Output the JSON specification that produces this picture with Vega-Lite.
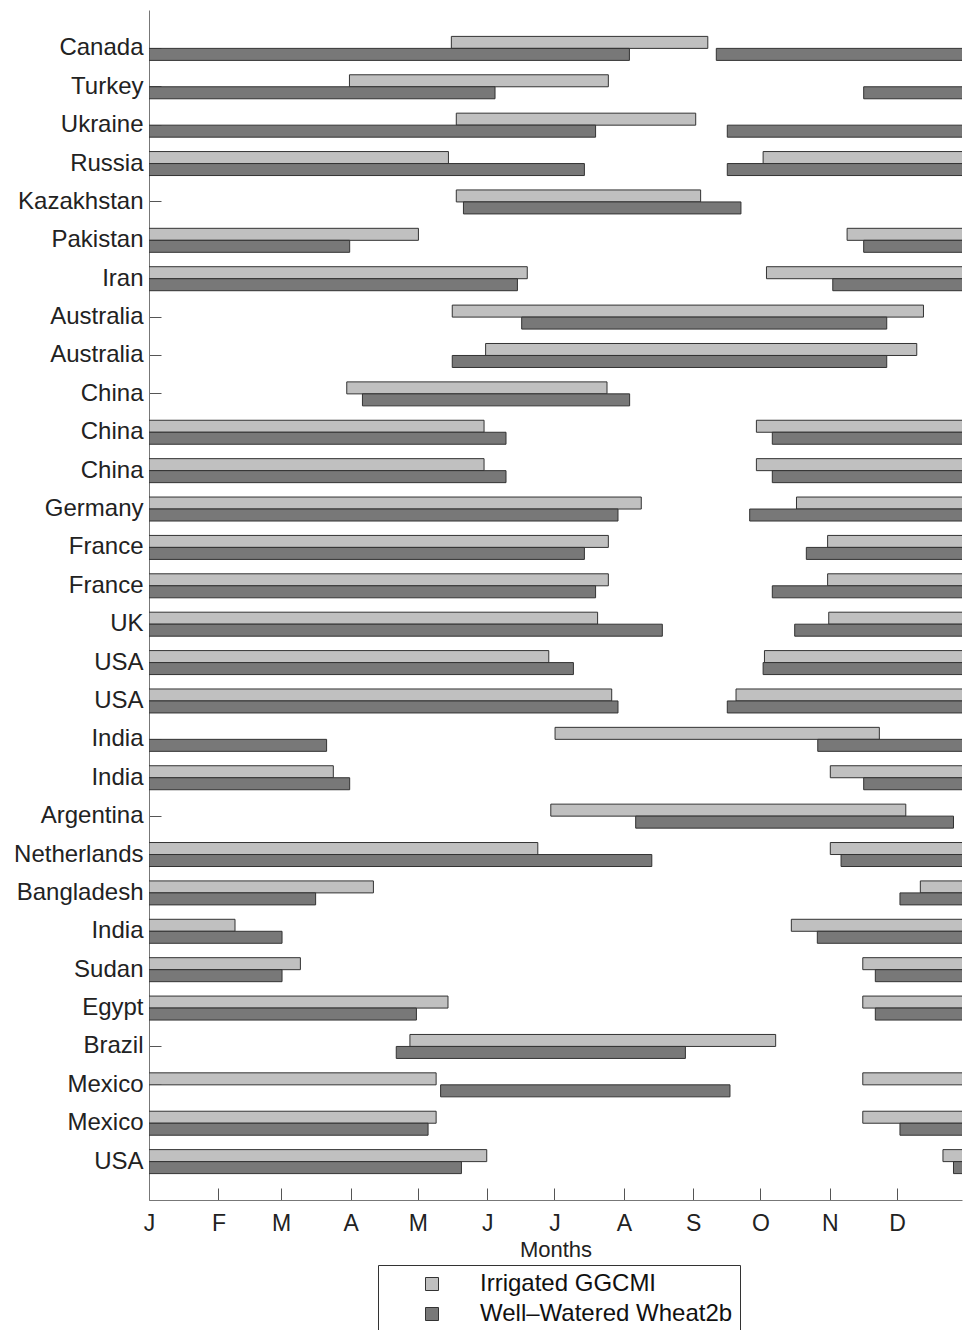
{
  "$schema": "https://vega.github.io/schema/vega-lite/v6.json",
  "width": 813,
  "height": 1190,
  "autosize": {"type": "none"},
  "padding": {"left": 149, "top": 10, "right": 1, "bottom": 130},
  "background": "white",
  "config": {"view": {"stroke": null}, "font": "Liberation Sans"},
  "data": {"values": [
    {"row": 1, "series": "Irrigated GGCMI", "start": 135, "end": 249.5},
    {"row": 1, "series": "Well–Watered Wheat2b", "start": 0, "end": 214.5},
    {"row": 1, "series": "Well–Watered Wheat2b", "start": 253.3, "end": 365},
    {"row": 2, "series": "Irrigated GGCMI", "start": 89.5, "end": 205.1},
    {"row": 2, "series": "Well–Watered Wheat2b", "start": 0, "end": 154.5},
    {"row": 2, "series": "Well–Watered Wheat2b", "start": 319.1, "end": 365},
    {"row": 3, "series": "Irrigated GGCMI", "start": 137.2, "end": 244.1},
    {"row": 3, "series": "Well–Watered Wheat2b", "start": 0, "end": 199.4},
    {"row": 3, "series": "Well–Watered Wheat2b", "start": 258.2, "end": 365},
    {"row": 4, "series": "Irrigated GGCMI", "start": 0, "end": 133.7},
    {"row": 4, "series": "Irrigated GGCMI", "start": 274.2, "end": 365},
    {"row": 4, "series": "Well–Watered Wheat2b", "start": 0, "end": 194.4},
    {"row": 4, "series": "Well–Watered Wheat2b", "start": 258.2, "end": 365},
    {"row": 5, "series": "Irrigated GGCMI", "start": 137.2, "end": 246.3},
    {"row": 5, "series": "Well–Watered Wheat2b", "start": 140.4, "end": 264.3},
    {"row": 6, "series": "Irrigated GGCMI", "start": 0, "end": 120.3},
    {"row": 6, "series": "Irrigated GGCMI", "start": 311.7, "end": 365},
    {"row": 6, "series": "Well–Watered Wheat2b", "start": 0, "end": 89.6},
    {"row": 6, "series": "Well–Watered Wheat2b", "start": 319.1, "end": 365},
    {"row": 7, "series": "Irrigated GGCMI", "start": 0, "end": 168.9},
    {"row": 7, "series": "Irrigated GGCMI", "start": 275.7, "end": 365},
    {"row": 7, "series": "Well–Watered Wheat2b", "start": 0, "end": 164.5},
    {"row": 7, "series": "Well–Watered Wheat2b", "start": 305.3, "end": 365},
    {"row": 8, "series": "Irrigated GGCMI", "start": 135.4, "end": 345.8},
    {"row": 8, "series": "Well–Watered Wheat2b", "start": 166.4, "end": 329.4},
    {"row": 9, "series": "Irrigated GGCMI", "start": 150.3, "end": 342.8},
    {"row": 9, "series": "Well–Watered Wheat2b", "start": 135.4, "end": 329.4},
    {"row": 10, "series": "Irrigated GGCMI", "start": 88.3, "end": 204.5},
    {"row": 10, "series": "Well–Watered Wheat2b", "start": 95.3, "end": 214.6},
    {"row": 11, "series": "Irrigated GGCMI", "start": 0, "end": 149.6},
    {"row": 11, "series": "Irrigated GGCMI", "start": 271.2, "end": 365},
    {"row": 11, "series": "Well–Watered Wheat2b", "start": 0, "end": 159.4},
    {"row": 11, "series": "Well–Watered Wheat2b", "start": 278.3, "end": 365},
    {"row": 12, "series": "Irrigated GGCMI", "start": 0, "end": 149.6},
    {"row": 12, "series": "Irrigated GGCMI", "start": 271.2, "end": 365},
    {"row": 12, "series": "Well–Watered Wheat2b", "start": 0, "end": 159.4},
    {"row": 12, "series": "Well–Watered Wheat2b", "start": 278.3, "end": 365},
    {"row": 13, "series": "Irrigated GGCMI", "start": 0, "end": 219.8},
    {"row": 13, "series": "Irrigated GGCMI", "start": 289.1, "end": 365},
    {"row": 13, "series": "Well–Watered Wheat2b", "start": 0, "end": 209.4},
    {"row": 13, "series": "Well–Watered Wheat2b", "start": 268.2, "end": 365},
    {"row": 14, "series": "Irrigated GGCMI", "start": 0, "end": 205.1},
    {"row": 14, "series": "Irrigated GGCMI", "start": 303, "end": 365},
    {"row": 14, "series": "Well–Watered Wheat2b", "start": 0, "end": 194.4},
    {"row": 14, "series": "Well–Watered Wheat2b", "start": 293.5, "end": 365},
    {"row": 15, "series": "Irrigated GGCMI", "start": 0, "end": 205.1},
    {"row": 15, "series": "Irrigated GGCMI", "start": 303, "end": 365},
    {"row": 15, "series": "Well–Watered Wheat2b", "start": 0, "end": 199.4},
    {"row": 15, "series": "Well–Watered Wheat2b", "start": 278.3, "end": 365},
    {"row": 16, "series": "Irrigated GGCMI", "start": 0, "end": 200.3},
    {"row": 16, "series": "Irrigated GGCMI", "start": 303.5, "end": 365},
    {"row": 16, "series": "Well–Watered Wheat2b", "start": 0, "end": 229.2},
    {"row": 16, "series": "Well–Watered Wheat2b", "start": 288.3, "end": 365},
    {"row": 17, "series": "Irrigated GGCMI", "start": 0, "end": 178.5},
    {"row": 17, "series": "Irrigated GGCMI", "start": 274.8, "end": 365},
    {"row": 17, "series": "Well–Watered Wheat2b", "start": 0, "end": 189.5},
    {"row": 17, "series": "Well–Watered Wheat2b", "start": 274.2, "end": 365},
    {"row": 18, "series": "Irrigated GGCMI", "start": 0, "end": 206.6},
    {"row": 18, "series": "Irrigated GGCMI", "start": 262.1, "end": 365},
    {"row": 18, "series": "Well–Watered Wheat2b", "start": 0, "end": 209.4},
    {"row": 18, "series": "Well–Watered Wheat2b", "start": 258.2, "end": 365},
    {"row": 19, "series": "Irrigated GGCMI", "start": 181.3, "end": 326.1},
    {"row": 19, "series": "Well–Watered Wheat2b", "start": 0, "end": 79.3},
    {"row": 19, "series": "Well–Watered Wheat2b", "start": 298.6, "end": 365},
    {"row": 20, "series": "Irrigated GGCMI", "start": 0, "end": 82.3},
    {"row": 20, "series": "Irrigated GGCMI", "start": 304.2, "end": 365},
    {"row": 20, "series": "Well–Watered Wheat2b", "start": 0, "end": 89.6},
    {"row": 20, "series": "Well–Watered Wheat2b", "start": 319.1, "end": 365},
    {"row": 21, "series": "Irrigated GGCMI", "start": 179.4, "end": 337.9},
    {"row": 21, "series": "Well–Watered Wheat2b", "start": 217.3, "end": 359.2},
    {"row": 22, "series": "Irrigated GGCMI", "start": 0, "end": 173.6},
    {"row": 22, "series": "Irrigated GGCMI", "start": 304.2, "end": 365},
    {"row": 22, "series": "Well–Watered Wheat2b", "start": 0, "end": 224.5},
    {"row": 22, "series": "Well–Watered Wheat2b", "start": 309, "end": 365},
    {"row": 23, "series": "Irrigated GGCMI", "start": 0, "end": 100.2},
    {"row": 23, "series": "Irrigated GGCMI", "start": 344.4, "end": 365},
    {"row": 23, "series": "Well–Watered Wheat2b", "start": 0, "end": 74.4},
    {"row": 23, "series": "Well–Watered Wheat2b", "start": 335.3, "end": 365},
    {"row": 24, "series": "Irrigated GGCMI", "start": 0, "end": 38.4},
    {"row": 24, "series": "Irrigated GGCMI", "start": 286.8, "end": 365},
    {"row": 24, "series": "Well–Watered Wheat2b", "start": 0, "end": 59.4},
    {"row": 24, "series": "Well–Watered Wheat2b", "start": 298.4, "end": 365},
    {"row": 25, "series": "Irrigated GGCMI", "start": 0, "end": 67.6},
    {"row": 25, "series": "Irrigated GGCMI", "start": 318.7, "end": 365},
    {"row": 25, "series": "Well–Watered Wheat2b", "start": 0, "end": 59.4},
    {"row": 25, "series": "Well–Watered Wheat2b", "start": 324.3, "end": 365},
    {"row": 26, "series": "Irrigated GGCMI", "start": 0, "end": 133.5},
    {"row": 26, "series": "Irrigated GGCMI", "start": 318.7, "end": 365},
    {"row": 26, "series": "Well–Watered Wheat2b", "start": 0, "end": 119.4},
    {"row": 26, "series": "Well–Watered Wheat2b", "start": 324.3, "end": 365},
    {"row": 27, "series": "Irrigated GGCMI", "start": 116.5, "end": 279.8},
    {"row": 27, "series": "Well–Watered Wheat2b", "start": 110.4, "end": 239.5},
    {"row": 28, "series": "Irrigated GGCMI", "start": 0, "end": 128.2},
    {"row": 28, "series": "Irrigated GGCMI", "start": 318.7, "end": 365},
    {"row": 28, "series": "Well–Watered Wheat2b", "start": 130.2, "end": 259.4},
    {"row": 29, "series": "Irrigated GGCMI", "start": 0, "end": 128.2},
    {"row": 29, "series": "Irrigated GGCMI", "start": 318.7, "end": 365},
    {"row": 29, "series": "Well–Watered Wheat2b", "start": 0, "end": 124.6},
    {"row": 29, "series": "Well–Watered Wheat2b", "start": 335.3, "end": 365},
    {"row": 30, "series": "Irrigated GGCMI", "start": 0, "end": 150.8},
    {"row": 30, "series": "Irrigated GGCMI", "start": 354.5, "end": 365},
    {"row": 30, "series": "Well–Watered Wheat2b", "start": 0, "end": 139.5},
    {"row": 30, "series": "Well–Watered Wheat2b", "start": 359.2, "end": 365}
  ]},
  "mark": {"type": "bar", "clip": true, "stroke": "#333333", "strokeWidth": 1},
  "encoding": {
    "y": {
      "field": "row",
      "type": "ordinal",
      "scale": {"domain": [1,2,3,4,5,6,7,8,9,10,11,12,13,14,15,16,17,18,19,20,21,22,23,24,25,26,27,28,29,30], "paddingInner": 0, "paddingOuter": 0.5},
      "axis": {
        "title": null,
        "labelExpr": "['Canada','Turkey','Ukraine','Russia','Kazakhstan','Pakistan','Iran','Australia','Australia','China','China','China','Germany','France','France','UK','USA','USA','India','India','Argentina','Netherlands','Bangladesh','India','Sudan','Egypt','Brazil','Mexico','Mexico','USA'][datum.value - 1]",
        "labelFontSize": 24,
        "labelColor": "#222222",
        "labelPadding": 18,
        "tickSize": -12,
        "tickColor": "#555555",
        "domainColor": "#777777",
        "grid": false,
        "zindex": 0
      }
    },
    "yOffset": {
      "field": "series",
      "type": "nominal",
      "scale": {"domain": ["Irrigated GGCMI", "Well–Watered Wheat2b"], "paddingInner": 0, "paddingOuter": 0.6}
    },
    "x": {
      "field": "start",
      "type": "quantitative",
      "scale": {"domain": [0, 363], "nice": false, "zero": false},
      "axis": {
        "title": "Months",
        "titleFontSize": 22,
        "titleFontWeight": "normal",
        "titleColor": "#222222",
        "titlePadding": 4,
        "values": [0,31,59,90,120,151,181,212,243,273,304,334],
        "labelExpr": "['J','F','M','A','M','J','J','A','S','O','N','D'][indexof([0,31,59,90,120,151,181,212,243,273,304,334], datum.value)]",
        "labelFontSize": 23,
        "labelColor": "#222222",
        "labelFlush": false,
        "labelOverlap": false,
        "labelPadding": 24,
        "tickSize": -12,
        "tickColor": "#555555",
        "domainColor": "#777777",
        "grid": false,
        "zindex": 0
      }
    },
    "x2": {"field": "end"},
    "color": {
      "field": "series",
      "type": "nominal",
      "scale": {"domain": ["Irrigated GGCMI", "Well–Watered Wheat2b"], "range": ["#c0c0c0", "#787878"]},
      "legend": {
        "orient": "none",
        "legendX": 229,
        "legendY": 1255,
        "title": null,
        "strokeColor": "#333333",
        "fillColor": "white",
        "padding": 7,
        "symbolType": "square",
        "symbolSize": 169,
        "symbolStrokeColor": "#333333",
        "symbolStrokeWidth": 1,
        "symbolOffset": 35,
        "labelOffset": 36,
        "labelFontSize": 24,
        "labelLimit": 400,
        "labelColor": "#111111",
        "rowPadding": 6
      }
    }
  }
}
